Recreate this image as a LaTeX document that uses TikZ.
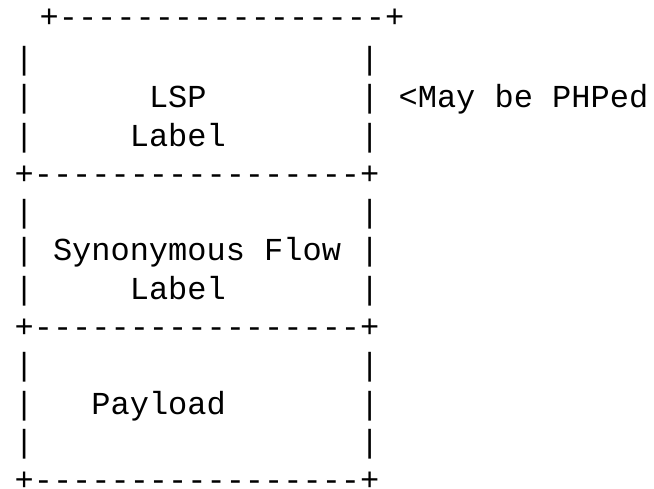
\documentclass[tikz,border=0pt]{standalone}
\usepackage{fontspec}
\setmonofont{Liberation Mono}
\tikzset{ascii/.style={anchor=base west, inner sep=0pt, font=\ttfamily\fontsize{32}{38}\selectfont}}
% one character cell of the drawing
\newcommand{\cw}{19.2}
\newcommand{\lh}{38.25}

\begin{document}
\begin{tikzpicture}[x=1pt,y=-1pt]
	\useasboundingbox (0,0) rectangle (654,489);
	% top edge sits a little off the grid
	\node[ascii] (top) at (39.4,27.5) {+-----------------+};
	\foreach \r in {4,8,12}
		\node[ascii] (edge\r) at (14.4,{31.5+\r*\lh}) {+-----------------+};
	\foreach \r in {1,2,3,5,7,9,10,11} {
		\node[ascii] (l\r) at (14.4,{31.5+\r*\lh}) {|};
		\node[ascii] (r\r) at ({14.4+18*\cw},{31.5+\r*\lh}) {|};
	}
	\node[ascii] (lsp) at ({14.4+7*\cw},{31.5+2*\lh}) {LSP};
	\node[ascii] (lsplabel) at ({14.4+6*\cw},{31.5+3*\lh}) {Label};
	\node[ascii] (note) at ({14.4+20*\cw},{31.5+2*\lh}) {<May be PHPed};
	\node[ascii] (sfl) at (14.4,{31.5+6*\lh}) {| Synonymous Flow |};
	\node[ascii] (sfllabel) at ({14.4+6*\cw},{31.5+7*\lh}) {Label};
	\node[ascii] (payload) at ({14.4+4*\cw},{31.5+10*\lh}) {Payload};
\end{tikzpicture}
\end{document}
